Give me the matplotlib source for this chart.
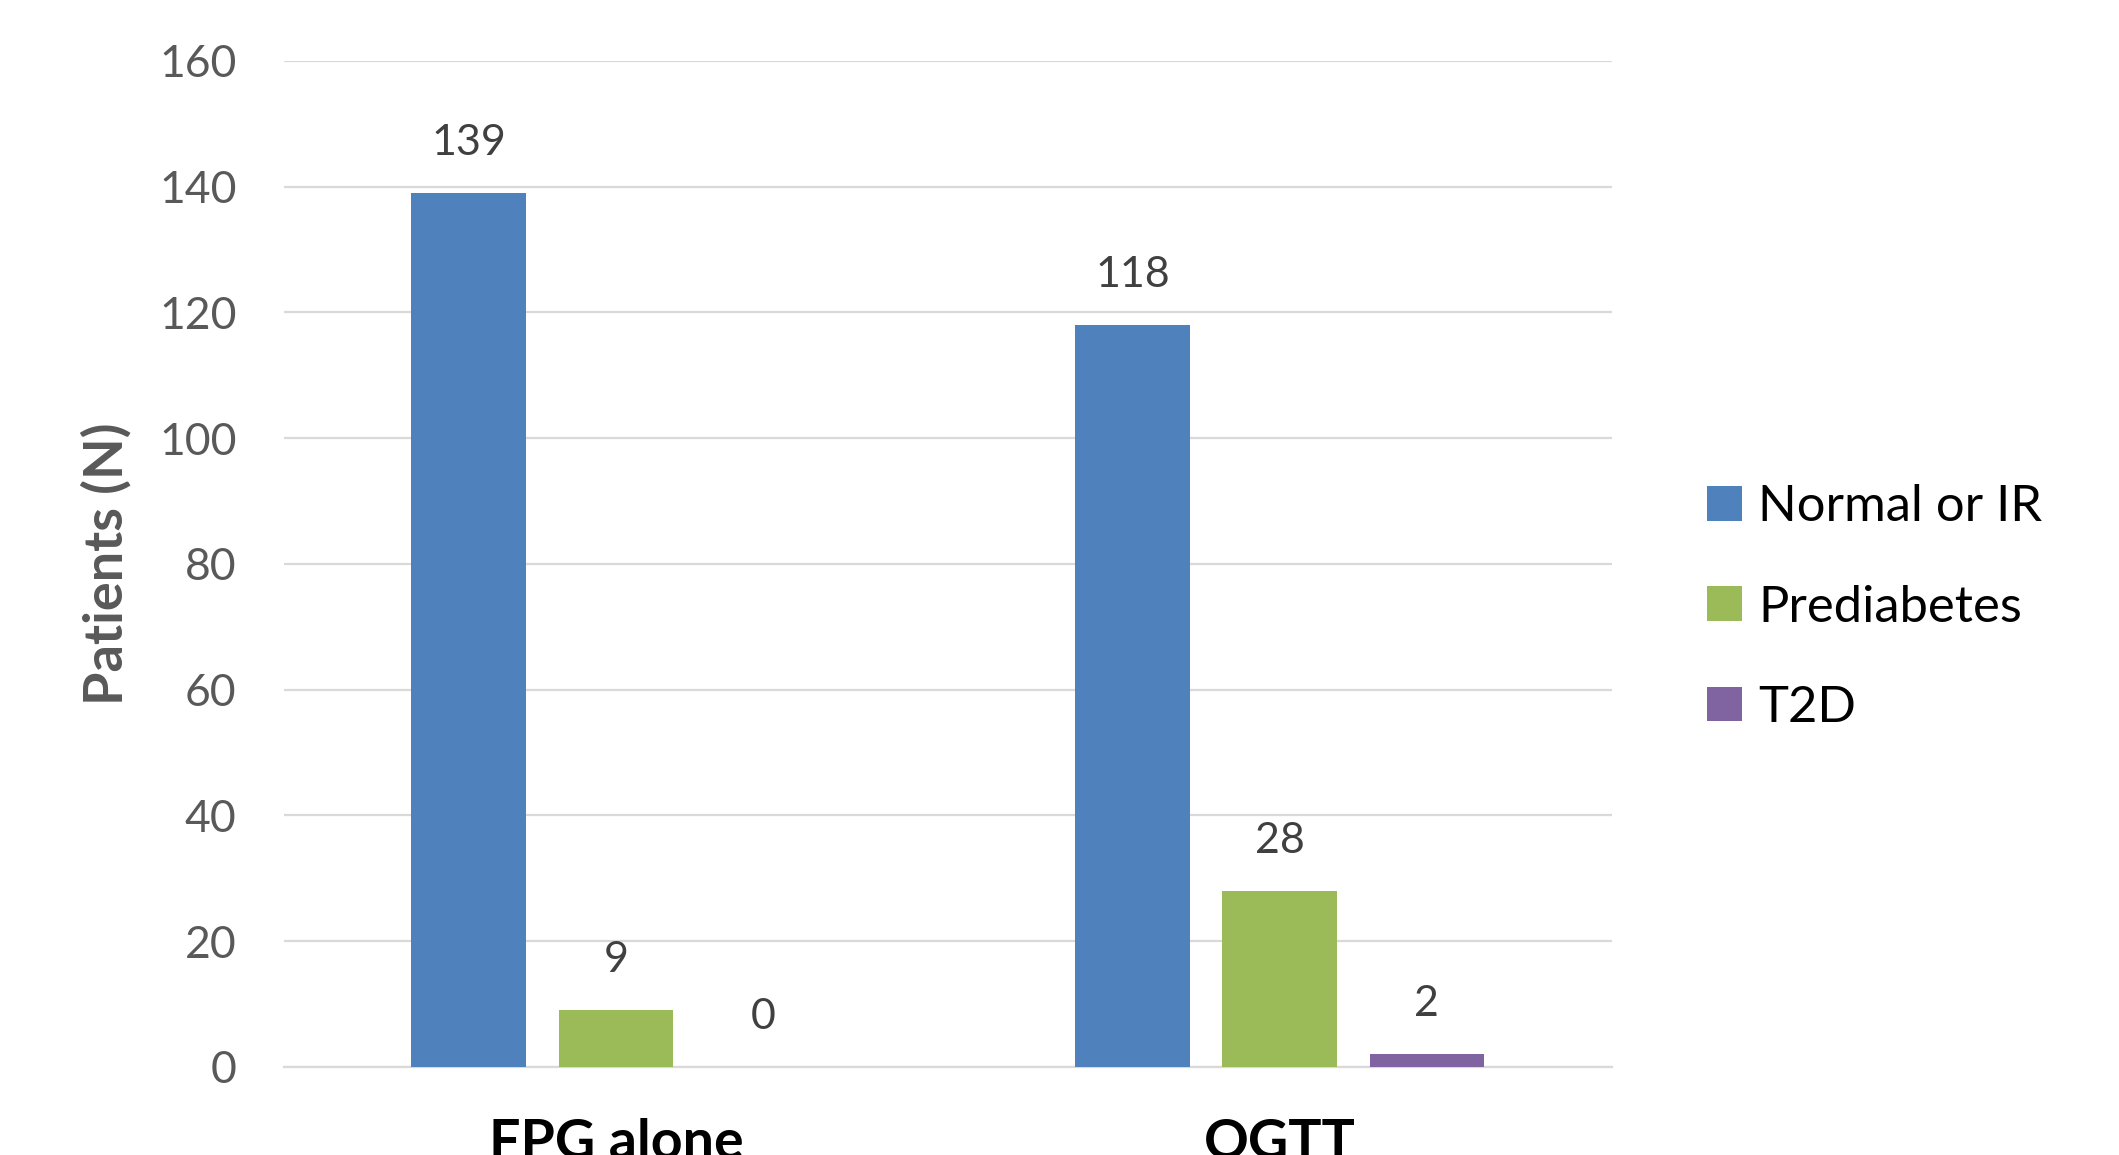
import matplotlib
matplotlib.use("Agg")
import matplotlib.pyplot as plt
import numpy as np
from matplotlib.patches import Patch

categories = ["FPG alone", "OGTT"]
series_names = ["Normal or IR", "Prediabetes", "T2D"]
normal_ir = [139, 118]
prediabetes = [9, 28]
t2d = [0, 2]
y_ticks = [0, 20, 40, 60, 80, 100, 120, 140, 160]

colors = ["#4F81BD", "#9BBB59", "#8064A2"]
plt.rcParams['font.family'] = ['Lato', 'DejaVu Sans']

fig = plt.figure(figsize=(21.19, 11.55), dpi=100)
ax = fig.add_axes([0.134, 0.0762, 0.6267, 0.871])

x = np.arange(len(categories))
offset = 0.2214
width = 0.173
all_series = [normal_ir, prediabetes, t2d]
for i, (vals, name, c) in enumerate(zip(all_series, series_names, colors)):
    xs = x + (i - 1) * offset
    ax.bar(xs, vals, width=width, color=c, label=name, zorder=3)
    for xi, v in zip(xs, vals):
        ax.annotate(str(v), (xi, v), xytext=(0, 36), textcoords='offset points',
                    ha='center', va='center', fontsize=31, color='#404040')

ax.set_xlim(-0.5, 1.5)
ax.set_ylim(0, 160)
ax.set_yticks(y_ticks)
ax.set_yticklabels([str(t) for t in y_ticks])
ax.set_xticks(x)
ax.set_xticklabels(categories, fontsize=40, fontweight='bold', color='black')
ax.tick_params(axis='y', length=0, pad=34, labelsize=32, labelcolor='#595959')
ax.tick_params(axis='x', length=0, pad=37)
ax.grid(axis='y', color='#D9D9D9', linewidth=1.6, zorder=0)
for s in ['top', 'right', 'left']:
    ax.spines[s].set_visible(False)
ax.spines['bottom'].set_color('#D9D9D9')
ax.spines['bottom'].set_linewidth(1.6)

ax.set_ylabel("Patients (N)", fontsize=39, fontweight='bold', color='#595959')
ax.yaxis.set_label_coords(-0.115, 0.5)

handles = [Patch(facecolor=c, label=n) for c, n in zip(colors, series_names)]
fig.legend(handles=handles, loc='center left', bbox_to_anchor=(0.8056, 0.474),
           frameon=False, fontsize=36.5, handlelength=0.68, handleheight=0.68,
           handletextpad=0.33, labelspacing=1.07, borderpad=0, borderaxespad=0)

fig.savefig("out.png", dpi=100, facecolor='white')
